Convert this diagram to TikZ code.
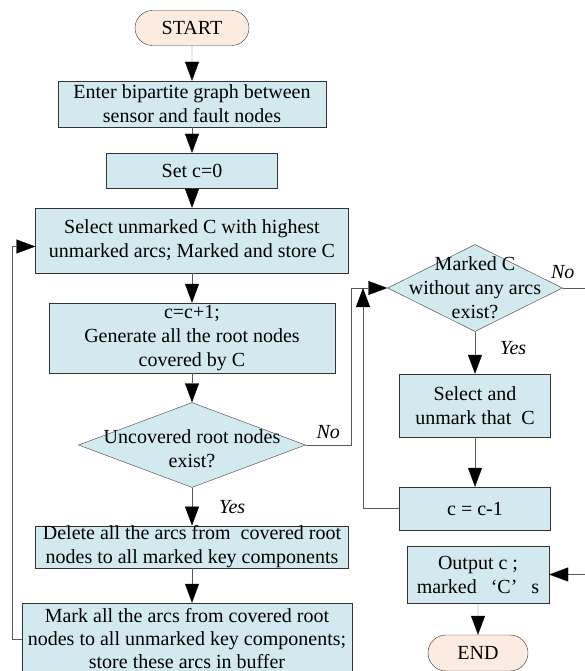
\documentclass[tikz,border=0pt]{standalone}
\usepackage{fontspec}
\setmainfont{Liberation Serif}
\usetikzlibrary{shapes}
\usetikzlibrary {arrows.meta}

\definecolor{boxblue}{RGB}{210,233,239}
\definecolor{peach}{RGB}{252,235,225}

\tikzset{
  txt/.style={font=\fontsize{20}{24}\selectfont,align=center},
  proc/.style={rectangle,draw=black!80,fill=boxblue,inner sep=0pt,txt},
  term/.style={rounded rectangle,draw=black!80,fill=peach,inner sep=0pt,txt},
  decision/.style={diamond,draw=black!75,fill=boxblue,inner sep=0pt},
  flow/.style={draw=black!65,-{Triangle[length=19pt,width=14pt,color=black]}},
  lbl/.style={font=\itshape\fontsize{20}{22}\selectfont,inner sep=1pt}
}

\begin{document}
\begin{tikzpicture}[x=1pt,y=-1pt]
\useasboundingbox (0,0) rectangle (585,671);

\node[term,minimum width=114pt,minimum height=35pt] (start) at (192,28) {START};
\node[proc,minimum width=268pt,minimum height=46pt] (enter) at (192,104) {Enter bipartite graph between\\sensor and fault nodes};
\node[proc,minimum width=171pt,minimum height=35pt] (setc) at (192,170.5) {Set c=0};
\node[proc,minimum width=313pt,minimum height=65pt] (select) at (192,240.5) {Select unmarked C with highest\\unmarked arcs; Marked and store C};
\node[proc,minimum width=286pt,minimum height=70pt] (cinc) at (192,338) {c=c+1;\\Generate all the root nodes\\covered by C};
\node[decision,minimum width=227pt,minimum height=85pt,
  label={[txt,yshift=-4pt]center:Uncovered root nodes\\exist?}] (q1) at (192,445) {};
\node[proc,minimum width=313pt,minimum height=40pt] (delete) at (192,547) {Delete all the arcs from\ \ covered root\\nodes to all marked key components};
\node[proc,minimum width=330pt,minimum height=72pt,font=\fontsize{20}{23}\selectfont] (mark) at (187,639) {Mark all the arcs from covered root\\nodes to all unmarked key components;\\store these arcs in buffer};

\node[decision,minimum width=175pt,minimum height=87pt,
  label={[txt]center:Marked C\\without any arcs\\exist?}] (q2) at (475,288) {};
\node[proc,minimum width=151pt,minimum height=63pt] (unmark) at (475,405.5) {Select and\\unmark that\hspace{10pt}C};
\node[proc,minimum width=151pt,minimum height=43pt] (cdec) at (475,508.5) {c = c-1};
\node[proc,minimum width=142pt,minimum height=57pt] (output) at (478,574.5) {Output c ;\\marked\hspace{14pt}‘C’\hspace{14pt}s};
\node[term,minimum width=100pt,minimum height=36pt] (end) at (478,653) {END};

\coordinate (join) at (363,288);

\draw[flow] (start) -- (enter);
\draw[flow] (enter) -- (setc);
\draw[flow] (setc) -- (select);
\draw[flow] (select) -- (cinc);
\draw[flow] (cinc) -- (q1);
\draw[flow] (q1) -- node[lbl,right=26pt] {Yes} (delete);
\draw[flow] (delete) -- (delete.south |- mark.north);
\draw[flow] (mark.west) -- ++(-10,0) |- ([yshift=-6pt]select.west);
\draw[flow] (q1.east) -- node[lbl,above=5pt] {No} ++(45,0) |- (q2.west);

\draw[flow] (q2) -- node[lbl,right=24pt,pos=0.4] {Yes} (unmark);
\draw[flow] (unmark) -- (cdec);
\draw[flow] (cdec.west) -| (join);
\draw[flow] (q2.east) -- node[lbl,above=8pt,pos=0] {No} ++(22,0) |- (output.east);
\draw[flow] (output) -- (end);

\end{tikzpicture}
\end{document}
